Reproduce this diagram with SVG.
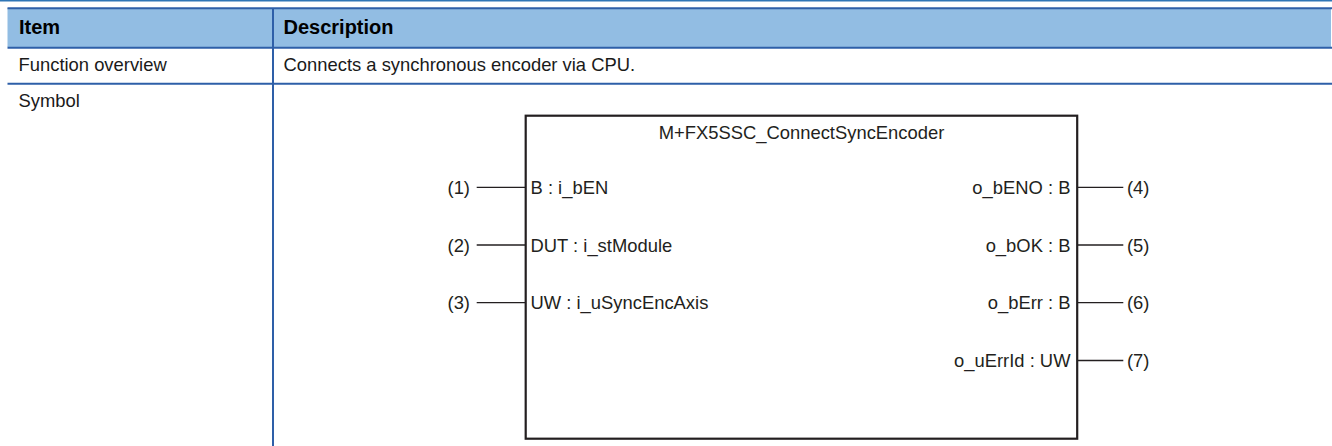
<svg xmlns="http://www.w3.org/2000/svg" width="1332" height="446" viewBox="0 0 1332 446">
<style>
text{font-family:"Liberation Sans",Arial,sans-serif;fill:#1a1a1a}
.h{font-size:20px;font-weight:bold;fill:#000}
.t{font-size:18.4px}
.p{font-size:18.4px;fill:#231f20}
.e{text-anchor:end}
.m{text-anchor:middle}
.rule{stroke:#2e5fa8;stroke-width:2;fill:none}
.wire{stroke:#231f20;stroke-width:1.3;fill:none}
</style>
<g id="table">
<line x1="0" y1="0.7" x2="1332" y2="0.7" stroke="#2e75b6" stroke-width="1.5"/>
<rect x="7.5" y="8" width="1323.5" height="39" fill="#92bde3"/>
<line class="rule" x1="7.5" y1="8.2" x2="1332" y2="8.2"/>
<line class="rule" x1="7.5" y1="47.7" x2="1332" y2="47.7"/>
<line class="rule" x1="7.5" y1="83.7" x2="1332" y2="83.7"/>
<line class="rule" x1="273" y1="8" x2="273" y2="446"/>
<text class="h" x="19" y="33.5">Item</text>
<text class="h" x="283.5" y="33.5">Description</text>
<text class="t" x="18.5" y="71">Function overview</text>
<text class="t" x="283.5" y="71">Connects a synchronous encoder via CPU.</text>
<text class="t" x="18.5" y="106.5">Symbol</text>
</g>
<g id="fb">
<rect x="525.7" y="115.7" width="551.5" height="323" fill="none" stroke="#231f20" stroke-width="2.2"/>
<text class="p m" x="801.5" y="139">M+FX5SSC_ConnectSyncEncoder</text>
<text class="p" x="530.5" y="193.8">B : i_bEN</text>
<text class="p" x="530.5" y="251.5">DUT : i_stModule</text>
<text class="p" x="530.5" y="309.2">UW : i_uSyncEncAxis</text>
<text class="p e" x="1070.5" y="193.8">o_bENO : B</text>
<text class="p e" x="1070.5" y="251.5">o_bOK : B</text>
<text class="p e" x="1070.5" y="309.2">o_bErr : B</text>
<text class="p e" x="1070.5" y="367">o_uErrId : UW</text>
</g>
<g id="connectors">
<line class="wire" x1="476.7" y1="187.3" x2="525" y2="187.3"/>
<line class="wire" x1="476.7" y1="245" x2="525" y2="245"/>
<line class="wire" x1="476.7" y1="302.7" x2="525" y2="302.7"/>
<line class="wire" x1="1078" y1="187.3" x2="1123.3" y2="187.3"/>
<line class="wire" x1="1078" y1="245" x2="1123.3" y2="245"/>
<line class="wire" x1="1078" y1="302.7" x2="1123.3" y2="302.7"/>
<line class="wire" x1="1078" y1="360.5" x2="1123.3" y2="360.5"/>
</g>
<g id="labels">
<text class="p e" x="470" y="193.8">(1)</text>
<text class="p e" x="470" y="251.5">(2)</text>
<text class="p e" x="470" y="309.2">(3)</text>
<text class="p" x="1127" y="193.8">(4)</text>
<text class="p" x="1127" y="251.5">(5)</text>
<text class="p" x="1127" y="309.2">(6)</text>
<text class="p" x="1127" y="367">(7)</text>
</g>
</svg>
